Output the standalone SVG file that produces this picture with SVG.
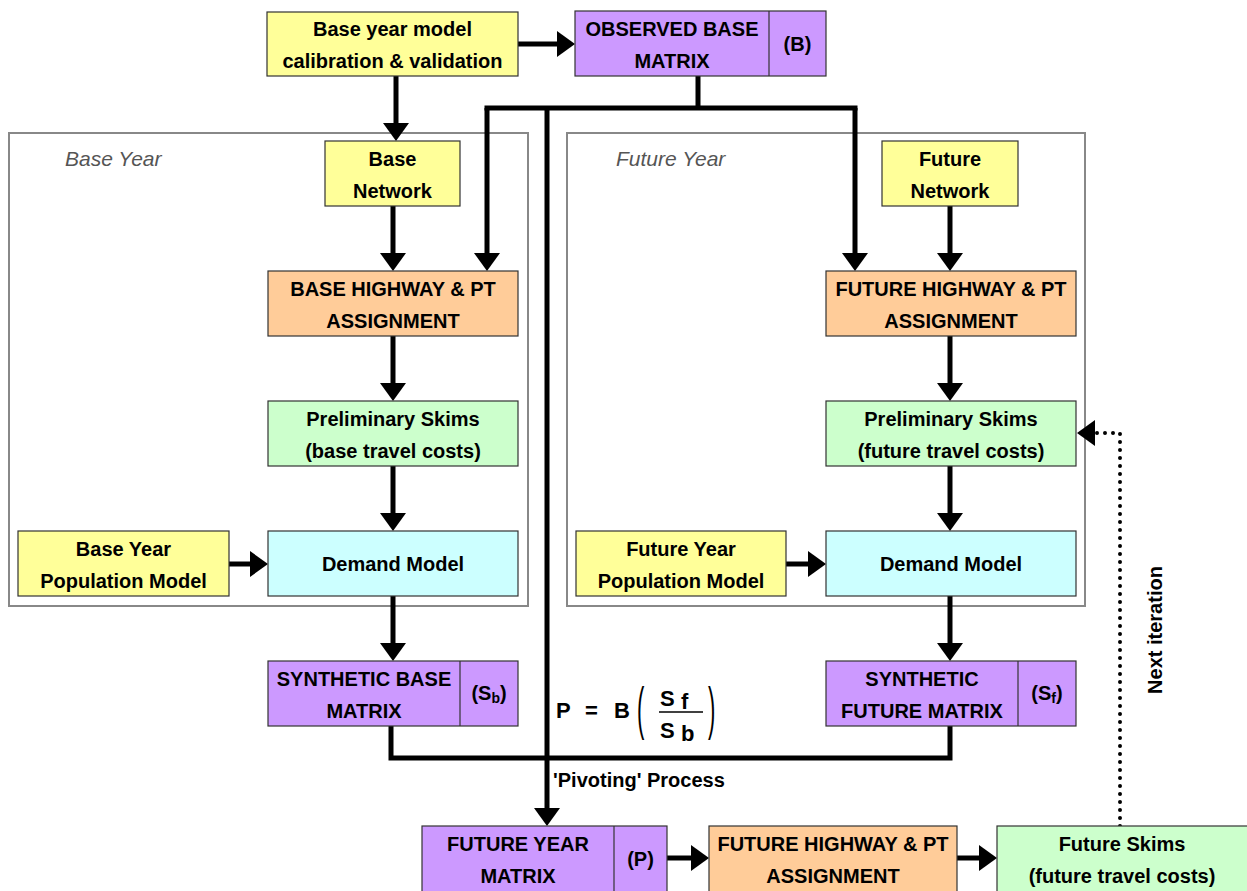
<svg xmlns="http://www.w3.org/2000/svg" width="1247" height="891" viewBox="0 0 1247 891">
<style>
.bx{stroke:#333;stroke-width:1.2}
.y{fill:#FFFF99}.p{fill:#CC99FF}.o{fill:#FFCC99}.g{fill:#CCFFCC}.c{fill:#CCFFFF}
.t{font-family:"Liberation Sans",Arial,sans-serif;font-weight:bold;font-size:20px;fill:#000;text-anchor:middle}
.fr{fill:none;stroke:#888;stroke-width:2}
.fl{font-family:"Liberation Sans",Arial,sans-serif;font-style:italic;font-size:21px;fill:#555}
.ln{fill:none;stroke:#000;stroke-width:5}
.ar{marker-end:url(#ah)}
.dot{fill:none;stroke:#000;stroke-width:4;stroke-linecap:round;stroke-dasharray:0 8}
.f{font-family:"Liberation Sans",Arial,sans-serif;font-size:22px;fill:#000}
</style>
<defs>
<marker id="ah" viewBox="0 0 18 26" refX="8" refY="13" markerWidth="18" markerHeight="26" markerUnits="userSpaceOnUse" orient="auto">
<path d="M0,0 L18,13 L0,26 Z" fill="#000"/>
</marker>
</defs>
<g id="frames">
<rect class="fr" x="9" y="133" width="519" height="473"/>
<text class="fl" x="65" y="166">Base Year</text>
<rect class="fr" x="567" y="133" width="518" height="473"/>
<text class="fl" x="616" y="166">Future Year</text>
</g>
<g id="connectors">
<path class="ln ar" d="M518,44 H565"/>
<path class="ln ar" d="M396,76 V131"/>
<path class="ln" d="M698,76 V108 M484.5,108 H857.5"/>
<path class="ln ar" d="M487,108 V261"/>
<path class="ln ar" d="M855,108 V261"/>
<path class="ln ar" d="M547,108 V816"/>
<path class="ln ar" d="M393,206 V261"/>
<path class="ln ar" d="M950,206 V261"/>
<path class="ln ar" d="M393,336 V391"/>
<path class="ln ar" d="M950,336 V391"/>
<path class="ln ar" d="M393,466 V521"/>
<path class="ln ar" d="M950,466 V521"/>
<path class="ln ar" d="M229,564 H258"/>
<path class="ln ar" d="M786,564 H816"/>
<path class="ln ar" d="M393,596 V651"/>
<path class="ln ar" d="M950,596 V651"/>
<path class="ln" d="M391,726 V758 H950 V726"/>
<path class="ln ar" d="M667,858 H699"/>
<path class="ln ar" d="M957,858 H987"/>
<path class="dot" d="M1120,826 V433 H1096"/>
<path d="M1077,433 L1095,420 L1095,446 Z" fill="#000"/>
</g>
<g id="n-calib">
<rect class="bx y" x="267" y="12" width="251" height="64"/>
<text class="t" x="392.5" y="36">Base year model</text>
<text class="t" x="392.5" y="68">calibration &amp; validation</text>
</g>
<g id="n-observed">
<rect class="bx p" x="575" y="11" width="251" height="65"/>
<line class="bx" x1="769" y1="11" x2="769" y2="76"/>
<text class="t" x="672" y="36">OBSERVED BASE</text>
<text class="t" x="672" y="68">MATRIX</text>
<text class="t" x="797.5" y="51">(B)</text>
</g>
<g id="n-basenet">
<rect class="bx y" x="325" y="141" width="135" height="65"/>
<text class="t" x="392.5" y="166">Base</text>
<text class="t" x="392.5" y="198">Network</text>
</g>
<g id="n-futnet">
<rect class="bx y" x="882" y="141" width="136" height="65"/>
<text class="t" x="950" y="166">Future</text>
<text class="t" x="950" y="198">Network</text>
</g>
<g id="n-baseassign">
<rect class="bx o" x="268" y="271" width="250" height="65"/>
<text class="t" x="393" y="296">BASE HIGHWAY &amp; PT</text>
<text class="t" x="393" y="328">ASSIGNMENT</text>
</g>
<g id="n-futassign">
<rect class="bx o" x="826" y="271" width="250" height="65"/>
<text class="t" x="951" y="296">FUTURE HIGHWAY &amp; PT</text>
<text class="t" x="951" y="328">ASSIGNMENT</text>
</g>
<g id="n-baseskims">
<rect class="bx g" x="268" y="401" width="250" height="65"/>
<text class="t" x="393" y="426">Preliminary Skims</text>
<text class="t" x="393" y="458">(base travel costs)</text>
</g>
<g id="n-futskims">
<rect class="bx g" x="826" y="401" width="250" height="65"/>
<text class="t" x="951" y="426">Preliminary Skims</text>
<text class="t" x="951" y="458">(future travel costs)</text>
</g>
<g id="n-basepop">
<rect class="bx y" x="18" y="531" width="211" height="65"/>
<text class="t" x="123.5" y="556">Base Year</text>
<text class="t" x="123.5" y="588">Population Model</text>
</g>
<g id="n-futpop">
<rect class="bx y" x="576" y="531" width="210" height="65"/>
<text class="t" x="681" y="556">Future Year</text>
<text class="t" x="681" y="588">Population Model</text>
</g>
<g id="n-basedemand">
<rect class="bx c" x="268" y="531" width="250" height="65"/>
<text class="t" x="393" y="571">Demand Model</text>
</g>
<g id="n-futdemand">
<rect class="bx c" x="826" y="531" width="250" height="65"/>
<text class="t" x="951" y="571">Demand Model</text>
</g>
<g id="n-synbase">
<rect class="bx p" x="268" y="661" width="250" height="65"/>
<line class="bx" x1="460" y1="661" x2="460" y2="726"/>
<text class="t" x="364" y="686">SYNTHETIC BASE</text>
<text class="t" x="364" y="718">MATRIX</text>
<text class="t" x="489" y="700">(S<tspan font-size="14" dy="3">b</tspan><tspan dy="-3">)</tspan></text>
</g>
<g id="n-synfut">
<rect class="bx p" x="826" y="661" width="250" height="65"/>
<line class="bx" x1="1018" y1="661" x2="1018" y2="726"/>
<text class="t" x="922" y="686">SYNTHETIC</text>
<text class="t" x="922" y="718">FUTURE MATRIX</text>
<text class="t" x="1047" y="700">(S<tspan font-size="14" dy="3">f</tspan><tspan dy="-3">)</tspan></text>
</g>
<g id="formula">
<text class="f" x="556" y="718" font-weight="bold">P</text>
<text class="f" x="585" y="718" font-weight="bold">=</text>
<text class="f" x="614" y="718" font-weight="bold">B</text>
<text class="f" font-size="30" fill="#666" transform="translate(637,728) scale(1,2.6)">(</text>
<text class="f" font-size="30" fill="#666" transform="translate(708,728) scale(1,2.6)">)</text>
<text class="f" x="660" y="706" font-weight="bold">S</text>
<text class="f" x="681" y="709" font-size="12" font-weight="bold">f</text>
<line x1="659" y1="712" x2="703" y2="712" stroke="#000" stroke-width="1.5"/>
<text class="f" x="660" y="738" font-weight="bold">S</text>
<text class="f" x="681" y="741" font-size="12" font-weight="bold">b</text>
<text class="t" x="553" y="787" style="text-anchor:start">'Pivoting' Process</text>
</g>
<g id="n-futmatrix">
<rect class="bx p" x="422" y="826" width="245" height="70"/>
<line class="bx" x1="614" y1="826" x2="614" y2="896"/>
<text class="t" x="518" y="851">FUTURE YEAR</text>
<text class="t" x="518" y="883">MATRIX</text>
<text class="t" x="640.5" y="866">(P)</text>
</g>
<g id="n-futassign2">
<rect class="bx o" x="709" y="826" width="248" height="70"/>
<text class="t" x="833" y="851">FUTURE HIGHWAY &amp; PT</text>
<text class="t" x="833" y="883">ASSIGNMENT</text>
</g>
<g id="n-futskims2">
<rect class="bx g" x="997" y="826" width="255" height="70"/>
<text class="t" x="1122" y="851">Future Skims</text>
<text class="t" x="1122" y="883">(future travel costs)</text>
</g>
<g id="label-next">
<text class="t" transform="translate(1162,630) rotate(-90)">Next iteration</text>
</g>
</svg>
